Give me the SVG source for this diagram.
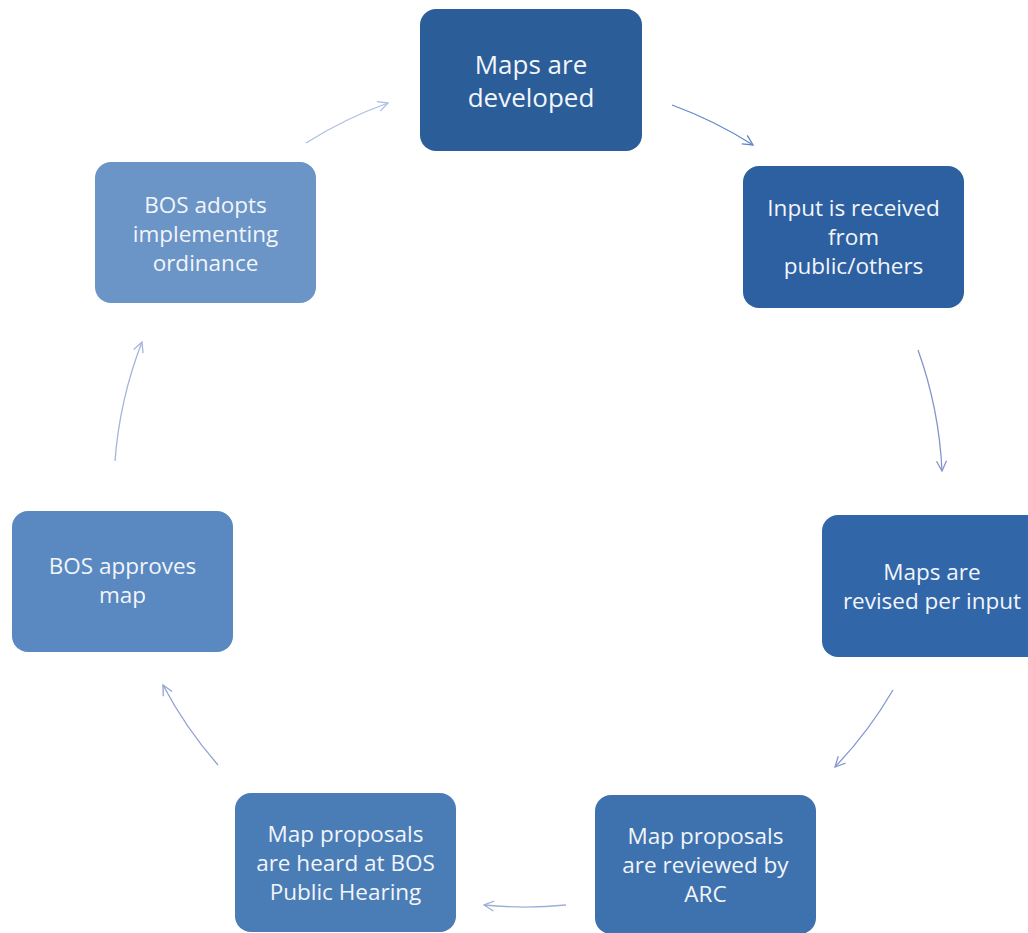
<svg xmlns="http://www.w3.org/2000/svg" width="1028" height="933" viewBox="0 0 1028 933">
<defs>
<marker id="ah1" viewBox="0 0 12 12" refX="11" refY="6" markerWidth="12" markerHeight="12" markerUnits="userSpaceOnUse" orient="auto"><path d="M1,1 L11,6 L1,11" fill="none" stroke="#5f88c8" stroke-width="1.3"/></marker>
<marker id="ah2" viewBox="0 0 12 12" refX="11" refY="6" markerWidth="12" markerHeight="12" markerUnits="userSpaceOnUse" orient="auto"><path d="M1,1 L11,6 L1,11" fill="none" stroke="#8296cc" stroke-width="1.3"/></marker>
<marker id="ah3" viewBox="0 0 12 12" refX="11" refY="6" markerWidth="12" markerHeight="12" markerUnits="userSpaceOnUse" orient="auto"><path d="M1,1 L11,6 L1,11" fill="none" stroke="#8598d0" stroke-width="1.3"/></marker>
<marker id="ah4" viewBox="0 0 12 12" refX="11" refY="6" markerWidth="12" markerHeight="12" markerUnits="userSpaceOnUse" orient="auto"><path d="M1,1 L11,6 L1,11" fill="none" stroke="#9dafd8" stroke-width="1.3"/></marker>
<marker id="ah5" viewBox="0 0 12 12" refX="11" refY="6" markerWidth="12" markerHeight="12" markerUnits="userSpaceOnUse" orient="auto"><path d="M1,1 L11,6 L1,11" fill="none" stroke="#92a3d0" stroke-width="1.3"/></marker>
<marker id="ah6" viewBox="0 0 12 12" refX="11" refY="6" markerWidth="12" markerHeight="12" markerUnits="userSpaceOnUse" orient="auto"><path d="M1,1 L11,6 L1,11" fill="none" stroke="#a4b4dc" stroke-width="1.3"/></marker>
<marker id="ah7" viewBox="0 0 12 12" refX="11" refY="6" markerWidth="12" markerHeight="12" markerUnits="userSpaceOnUse" orient="auto"><path d="M1,1 L11,6 L1,11" fill="none" stroke="#aebce4" stroke-width="1.3"/></marker>
</defs>
<style>
.box { rx: 16px; ry: 16px; }
.t { font-family: "Open Sans", "Noto Sans", "Liberation Sans", sans-serif; font-size: 22.5px; fill: #f2f5fa; text-anchor: middle; }
.big { font-size: 26px; }
.c { fill: none; stroke-width: 1.3; }
</style>
<rect width="1028" height="933" fill="#ffffff"/>
<g id="connectors">
<path class="c" d="M672,105 A414,414 0 0 1 753,145" stroke="#5f88c8" marker-end="url(#ah1)"/>
<path class="c" d="M918,350 A414,414 0 0 1 942,471" stroke="#8296cc" marker-end="url(#ah2)"/>
<path class="c" d="M893,690 A414,414 0 0 1 835,767" stroke="#8598d0" marker-end="url(#ah3)"/>
<path class="c" d="M566,905 A414,414 0 0 1 484,905" stroke="#9dafd8" marker-end="url(#ah4)"/>
<path class="c" d="M218,765 A414,414 0 0 1 163,685" stroke="#92a3d0" marker-end="url(#ah5)"/>
<path class="c" d="M115,461 A414,414 0 0 1 142,342" stroke="#a4b4dc" marker-end="url(#ah6)"/>
<path class="c" d="M306,143 A414,414 0 0 1 388,103" stroke="#aebce4" marker-end="url(#ah7)"/>
</g>
<g id="n1">
<rect class="box" x="420" y="9" width="222" height="142" fill="#2b5d98"/>
<text class="t big" x="531" y="74">Maps are</text>
<text class="t big" x="531" y="107">developed</text>
</g>
<g id="n2">
<rect class="box" x="743" y="166" width="221" height="142" fill="#2d60a0"/>
<text class="t" x="853.5" y="216">Input is received</text>
<text class="t" x="853.5" y="245">from</text>
<text class="t" x="853.5" y="274">public/others</text>
</g>
<g id="n3">
<rect class="box" x="822" y="515" width="221" height="142" fill="#3166a8"/>
<text class="t" x="932" y="580">Maps are</text>
<text class="t" x="932" y="609">revised per input</text>
</g>
<g id="n4">
<rect class="box" x="595" y="795" width="221" height="139" fill="#3e72ae"/>
<text class="t" x="705.5" y="844">Map proposals</text>
<text class="t" x="705.5" y="873">are reviewed by</text>
<text class="t" x="705.5" y="902">ARC</text>
</g>
<g id="n5">
<rect class="box" x="235" y="793" width="221" height="139" fill="#4a7cb6"/>
<text class="t" x="345.5" y="842">Map proposals</text>
<text class="t" x="345.5" y="871">are heard at BOS</text>
<text class="t" x="345.5" y="900">Public Hearing</text>
</g>
<g id="n6">
<rect class="box" x="12" y="511" width="221" height="141" fill="#5a88c0"/>
<text class="t" x="122.5" y="574">BOS approves</text>
<text class="t" x="122.5" y="603">map</text>
</g>
<g id="n7">
<rect class="box" x="95" y="162" width="221" height="141" fill="#6b94c7"/>
<text class="t" x="205.5" y="213">BOS adopts</text>
<text class="t" x="205.5" y="242">implementing</text>
<text class="t" x="205.5" y="271">ordinance</text>
</g>
</svg>
